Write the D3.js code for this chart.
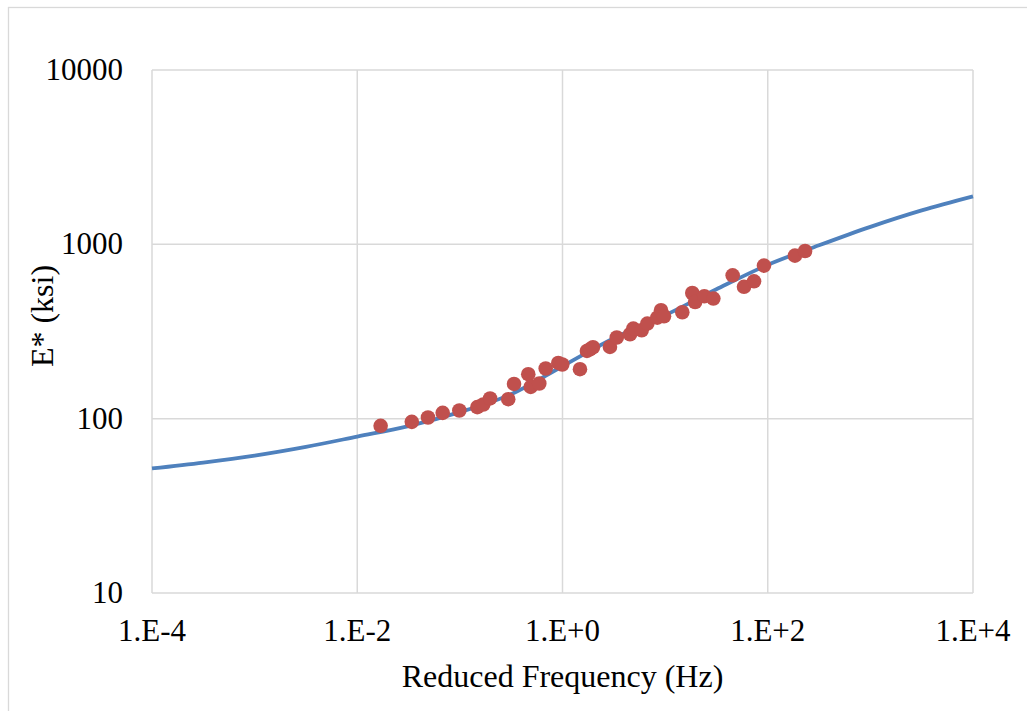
<!DOCTYPE html>
<html>
<head>
<meta charset="utf-8">
<script src="https://cdn.jsdelivr.net/npm/d3@7"></script>
<style>
  body { margin: 0; background: #fff; }
</style>
</head>
<body>
<div class="chart"></div>
<script>
// measured points (reduced frequency in Hz, E* in ksi)
var freq = [0.0169, 0.0340, 0.0489, 0.0680, 0.0988, 0.148, 0.169, 0.197, 0.296, 0.337,
            0.464, 0.490, 0.594, 0.686, 0.910, 0.995, 1.48, 1.73, 1.85, 1.98,
            2.90, 3.38, 4.55, 4.90, 5.91, 6.71, 8.39, 9.12, 9.75, 14.7,
            18.4, 19.6, 24.1, 29.5, 45.5, 58.7, 73.5, 91.9, 184, 231];
var modulus = [91.0, 95.9, 101.6, 108.0, 111.4, 116.4, 120.6, 130.6, 129.3, 158.2,
               179.9, 152.1, 159.1, 194.0, 208.8, 204.5, 192.2, 244.6, 250.0, 256.9,
               257.9, 292.0, 305.0, 328.7, 321.4, 351.2, 380.0, 418.6, 386.7, 407.7,
               526.0, 467.0, 503.5, 488.5, 664.3, 570.7, 613.8, 755.0, 861.2, 915.5];

var curveFreq = [1e-4, 3.16e-4, 1e-3, 3.16e-3, 1e-2, 3.16e-2, 1e-1, 3.16e-1, 1, 3.16,
                 10, 31.6, 100, 316, 1000, 3162, 1e4];
var curveE = [51.8, 56.0, 61.4, 68.9, 78.9, 90.6, 109.0, 138.1, 199.9, 289.3,
              391.8, 552, 762.9, 987, 1260, 1566, 1884];

var xTicks = [1e-4, 1e-2, 1, 1e2, 1e4];
var xTickLabels = ["1.E-4", "1.E-2", "1.E+0", "1.E+2", "1.E+4"];
var yTicks = [10, 100, 1000, 10000];

var width = 1027, height = 711;
var margin = {top: 70, right: 54, bottom: 118, left: 152};
var font = "'Liberation Serif', 'Times New Roman', 'DejaVu Serif', serif";

var svg = d3.select(".chart").append("svg")
    .attr("width", width)
    .attr("height", height)
    .attr("font-family", font);

// chart area frame
svg.append("rect")
    .attr("x", 8.5).attr("y", 7.5)
    .attr("width", 1040).attr("height", 720)
    .attr("fill", "none")
    .attr("stroke", "#d9d9d9")
    .attr("stroke-width", 1.3);

var x = d3.scaleLog()
    .domain([1e-4, 1e4])
    .range([margin.left, width - margin.right]);

var y = d3.scaleLog()
    .domain([10, 10000])
    .range([height - margin.bottom, margin.top]);

// grid
svg.append("g").selectAll("line")
    .data(xTicks)
    .enter().append("line")
    .attr("x1", function(d) { return x(d); })
    .attr("x2", function(d) { return x(d); })
    .attr("y1", y(10)).attr("y2", y(10000))
    .attr("stroke", "#d9d9d9")
    .attr("stroke-width", 1.5);

svg.append("g").selectAll("line")
    .data(yTicks)
    .enter().append("line")
    .attr("x1", x(1e-4)).attr("x2", x(1e4))
    .attr("y1", function(d) { return y(d); })
    .attr("y2", function(d) { return y(d); })
    .attr("stroke", "#d9d9d9")
    .attr("stroke-width", 1.5);

// tick labels
svg.append("g").selectAll("text")
    .data(xTicks)
    .enter().append("text")
    .attr("x", function(d) { return x(d); })
    .attr("y", 641)
    .attr("text-anchor", "middle")
    .attr("font-size", 31)
    .text(function(d, i) { return xTickLabels[i]; });

svg.append("g").selectAll("text")
    .data(yTicks)
    .enter().append("text")
    .attr("x", 123)
    .attr("y", function(d) { return y(d) + 10; })
    .attr("text-anchor", "end")
    .attr("font-size", 31)
    .text(function(d) { return d; });

// axis titles
svg.append("text")
    .attr("x", (x(1e-4) + x(1e4)) / 2)
    .attr("y", 687)
    .attr("text-anchor", "middle")
    .attr("font-size", 32)
    .text("Reduced Frequency (Hz)");

svg.append("text")
    .attr("transform", "translate(53,316) rotate(-90)")
    .attr("text-anchor", "middle")
    .attr("font-size", 32)
    .text("E* (ksi)");

// master curve
var line = d3.line()
    .x(function(d) { return x(d[0]); })
    .y(function(d) { return y(d[1]); })
    .curve(d3.curveCatmullRom.alpha(0.5));

svg.append("path")
    .datum(d3.zip(curveFreq, curveE))
    .attr("d", line)
    .attr("fill", "none")
    .attr("stroke", "#4f81bd")
    .attr("stroke-width", 3.8);

// measured data
svg.append("g").selectAll("circle")
    .data(d3.zip(freq, modulus))
    .enter().append("circle")
    .attr("cx", function(d) { return x(d[0]); })
    .attr("cy", function(d) { return y(d[1]); })
    .attr("r", 7.3)
    .attr("fill", "#c0504d");
</script>
</body>
</html>
